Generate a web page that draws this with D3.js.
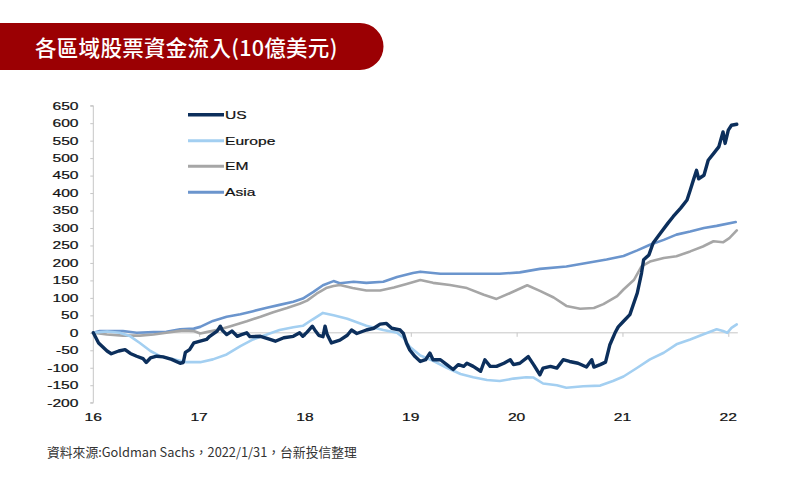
<!DOCTYPE html>
<html><head><meta charset="utf-8">
<script src="https://cdn.jsdelivr.net/npm/d3@7"></script>
<style>body{margin:0;background:#fff;}svg{display:block}</style>
</head><body>
<svg id="chart" width="800" height="480"></svg>
<script>
// ---------------- data ----------------
const titleText = "各區域股票資金流入(10億美元)";
const sourceText = "資料來源:Goldman Sachs，2022/1/31，台新投信整理";
const seriesNames = ["US", "Europe", "EM", "Asia"];
const xTickValues = [16, 17, 18, 19, 20, 21, 22];
const xTickLabels = ["16", "17", "18", "19", "20", "21", "22"];
const yTickValues = [-200,-150,-100,-50,0,50,100,150,200,250,300,350,400,450,500,550,600,650];

// [year (2-digit, fractional), USD bn]
const usData = [
 [16.00,0],[16.05,-29],[16.13,-52],[16.17,-60],[16.24,-52],[16.30,-48],[16.35,-59],[16.41,-67],
 [16.47,-74],[16.50,-85],[16.54,-72],[16.60,-67],[16.66,-69],[16.74,-76],[16.82,-87],[16.85,-85],
 [16.87,-56],[16.91,-48],[16.95,-29],[17.01,-24],[17.07,-19],[17.10,-10],[17.17,5],[17.20,19],
 [17.22,7],[17.26,-5],[17.31,5],[17.36,-10],[17.40,-5],[17.45,0],[17.48,-11],[17.58,-10],
 [17.67,-19],[17.72,-24],[17.80,-14],[17.89,-10],[17.95,0],[17.98,-10],[18.02,2],[18.07,19],
 [18.10,5],[18.13,-7],[18.17,-11],[18.19,19],[18.21,-5],[18.25,-29],[18.33,-21],[18.40,-7],
 [18.44,8],[18.49,-2],[18.58,8],[18.65,13],[18.71,25],[18.77,27],[18.82,13],[18.90,8],
 [18.93,-2],[18.96,-30],[18.99,-49],[19.04,-68],[19.09,-82],[19.14,-77],[19.18,-58],[19.21,-77],
 [19.28,-77],[19.34,-91],[19.40,-105],[19.45,-91],[19.50,-96],[19.53,-87],[19.59,-96],[19.66,-110],
 [19.70,-77],[19.75,-96],[19.81,-96],[19.88,-87],[19.94,-77],[19.97,-91],[20.03,-87],[20.11,-68],
 [20.16,-91],[20.22,-120],[20.25,-101],[20.32,-96],[20.38,-101],[20.44,-77],[20.50,-82],[20.58,-87],
 [20.66,-98],[20.71,-77],[20.73,-98],[20.79,-91],[20.84,-84],[20.88,-35],[20.93,0],[20.96,17],
 [21.01,33],[21.07,52],[21.14,114],[21.18,171],[21.20,209],[21.25,223],[21.29,257],[21.36,286],
 [21.43,314],[21.48,333],[21.55,357],[21.61,380],[21.64,408],[21.67,437],[21.70,465],[21.72,441],
 [21.77,451],[21.81,494],[21.86,513],[21.91,532],[21.95,575],[21.97,542],[22.00,580],[22.03,594],[22.08,597]
];
const europeData = [
 [16.00,0],[16.13,4],[16.25,0],[16.35,-10],[16.44,-29],[16.54,-52],[16.63,-67],[16.76,-76],
 [16.88,-84],[17.01,-84],[17.13,-76],[17.26,-62],[17.39,-38],[17.51,-19],[17.64,-5],[17.76,8],
 [17.89,16],[17.98,20],[18.07,38],[18.17,57],[18.27,50],[18.40,40],[18.58,20],[18.74,8],
 [18.87,0],[18.93,-14],[18.99,-40],[19.09,-65],[19.21,-80],[19.34,-100],[19.47,-118],[19.59,-127],
 [19.72,-135],[19.84,-138],[19.97,-131],[20.09,-127],[20.16,-128],[20.25,-145],[20.38,-150],[20.47,-157],
 [20.63,-153],[20.79,-151],[20.91,-138],[21.01,-125],[21.14,-100],[21.26,-76],[21.39,-57],[21.51,-33],
 [21.64,-19],[21.76,-5],[21.89,10],[21.95,5],[21.99,0],[22.03,14],[22.08,24]
];
const emData = [
 [16.00,0],[16.13,-5],[16.28,-8],[16.44,-8],[16.57,-5],[16.69,0],[16.85,7],[16.95,5],
 [17.01,-2],[17.07,2],[17.20,10],[17.32,21],[17.45,33],[17.58,46],[17.70,59],[17.83,71],
 [17.95,83],[18.02,92],[18.11,112],[18.20,128],[18.27,134],[18.33,137],[18.45,128],[18.58,121],
 [18.71,121],[18.84,130],[18.96,140],[19.09,151],[19.21,143],[19.37,137],[19.53,128],[19.69,109],
 [19.81,97],[19.94,114],[20.10,136],[20.22,120],[20.35,101],[20.47,77],[20.60,69],[20.73,71],
 [20.82,82],[20.95,105],[21.01,124],[21.11,152],[21.18,190],[21.26,204],[21.39,214],[21.51,219],
 [21.64,233],[21.76,247],[21.86,262],[21.95,259],[22.01,271],[22.08,293]
];
const asiaData = [
 [16.00,0],[16.06,5],[16.19,5],[16.28,5],[16.41,0],[16.57,2],[16.69,3],[16.82,10],
 [16.95,12],[17.01,17],[17.13,34],[17.26,46],[17.39,53],[17.51,62],[17.64,72],[17.76,80],
 [17.89,89],[17.98,98],[18.08,117],[18.17,136],[18.27,148],[18.33,142],[18.46,146],[18.58,143],
 [18.74,146],[18.87,160],[19.02,171],[19.09,175],[19.28,169],[19.53,169],[19.84,169],[20.03,173],
 [20.22,183],[20.47,190],[20.66,200],[20.85,210],[21.01,220],[21.14,236],[21.26,252],[21.39,266],
 [21.51,281],[21.64,290],[21.77,300],[21.89,306],[22.07,317]
];

// ---------------- drawing ----------------
const svg = d3.select("#chart");
const colors = {US: "#0c2f5c", Europe: "#a3cff1", EM: "#a6a6a6", Asia: "#6b95cd"};
const widths = {US: 3.4, Europe: 2.6, EM: 2.6, Asia: 2.6};
const dataBy = {US: usData, Europe: europeData, EM: emData, Asia: asiaData};
const SX = 1.42; // horizontal stretch of chart lettering

// title banner
svg.append("path")
  .attr("d", "M0,23 H360 A23.5,23.5 0 0 1 360,70 H0 Z")
  .attr("fill", "#9b0003");
svg.append("text").attr("x", 35).attr("y", 55.5)
  .attr("fill", "#fff").attr("font-family", "'Noto Sans CJK TC','Noto Sans CJK SC',sans-serif")
  .attr("font-size", 21.5).attr("font-weight", 500).attr("letter-spacing", 0.3).text(titleText);

const x = d3.scaleLinear().domain([16, 22]).range([93.3, 728.3]);
const y = d3.scaleLinear().domain([-200, 650]).range([402.7, 105.7]);
const axisColor = "#c6c6c6";
const labelFont = "'Liberation Sans', Arial, sans-serif";

// y axis
const yAxis = svg.append("g").attr("transform", `translate(${x(16)},0)`)
  .call(d3.axisLeft(y).tickValues(yTickValues).tickSize(3).tickFormat(""));
yAxis.select(".domain").attr("stroke", axisColor).attr("d", `M-3,${y(650)}H0V${y(-200)}H-3`);
yAxis.selectAll(".tick line").attr("stroke", axisColor);
yTickValues.forEach(v => {
  svg.append("text")
    .attr("transform", `translate(78.5,${y(v) + 3.9}) scale(${SX},1)`)
    .attr("text-anchor", "end").attr("font-family", labelFont).attr("font-size", 11)
    .attr("fill", "#111").attr("stroke", "#111").attr("stroke-width", 0.2).text(String(v));
});

// zero line with x ticks
const xAxis = svg.append("g").attr("transform", `translate(0,${y(0)})`)
  .call(d3.axisBottom(x).tickValues(xTickValues).tickSize(4).tickFormat(""));
xAxis.select(".domain").attr("stroke", axisColor).attr("d", `M${x(16)},0H${x(22.09)}`);
xAxis.selectAll(".tick line").attr("stroke", axisColor);
xTickValues.forEach((v, i) => {
  svg.append("text")
    .attr("transform", `translate(${x(v)},421) scale(${SX},1)`)
    .attr("text-anchor", "middle").attr("font-family", labelFont).attr("font-size", 11)
    .attr("fill", "#111").attr("stroke", "#111").attr("stroke-width", 0.2).text(xTickLabels[i]);
});

// lines
const line = d3.line().x(d => x(d[0])).y(d => y(d[1]));
["Asia", "EM", "Europe", "US"].forEach(name => {
  svg.append("path").datum(dataBy[name])
    .attr("fill", "none").attr("stroke", colors[name]).attr("stroke-width", widths[name])
    .attr("stroke-linejoin", "round").attr("stroke-linecap", "round")
    .attr("d", line);
});

// legend
const legendY = [114.7, 140.7, 166.3, 192.3];
seriesNames.forEach((name, i) => {
  const g = svg.append("g").attr("transform", `translate(188,${legendY[i]})`);
  g.append("line").attr("x1", 0).attr("x2", 36).attr("y1", 0).attr("y2", 0)
    .attr("stroke", colors[name]).attr("stroke-width", name === "US" ? 3.4 : 3);
  g.append("text").attr("transform", `translate(37,4) scale(${SX},1)`)
    .attr("font-family", labelFont).attr("font-size", 11).attr("fill", "#111")
    .attr("stroke", "#111").attr("stroke-width", 0.2).text(name);
});

// source
svg.append("text").attr("x", 47).attr("y", 456.5)
  .attr("font-family", "'Noto Sans CJK TC','Noto Sans CJK SC',sans-serif")
  .attr("font-size", 12.8).attr("fill", "#333").text(sourceText);
</script>
</body></html>
